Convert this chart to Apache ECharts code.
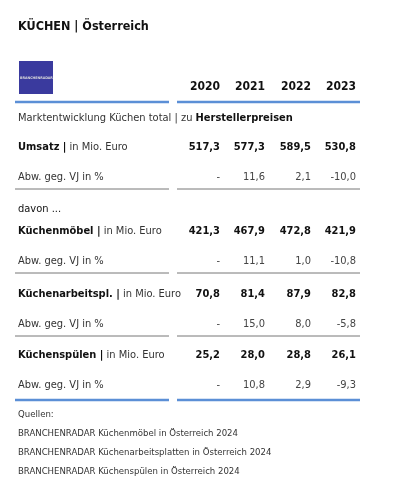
<!DOCTYPE html><html><head><meta charset="utf-8"><script src="https://cdn.jsdelivr.net/npm/echarts@6/dist/echarts.min.js"></script>
<style>html,body{margin:0;padding:0;background:#fff}#c{width:413px;height:500px}</style></head><body><div id="c"></div><script>
const years=['2020','2021','2022','2023'];
const umsatz=['517,3','577,3','589,5','530,8'];
const umsatzVJ=['-','11,6','2,1','-10,0'];
const moebel=['421,3','467,9','472,8','421,9'];
const moebelVJ=['-','11,1','1,0','-10,8'];
const arbeit=['70,8','81,4','87,9','82,8'];
const arbeitVJ=['-','15,0','8,0','-5,8'];
const spuelen=['25,2','28,0','28,8','26,1'];
const spuelenVJ=['-','10,8','2,9','-9,3'];
const sources=['BRANCHENRADAR Küchenmöbel in Österreich 2024','BRANCHENRADAR Küchenarbeitsplatten in Österreich 2024','BRANCHENRADAR Küchenspülen in Österreich 2024'];
const F='"DejaVu Sans Condensed","Liberation Sans Narrow",sans-serif';
const colX=[220,265,311,356];
const g=[];
function t(x,y,rich,text,align,extra){g.push({type:'text',x:x,y:y,style:Object.assign({text:text,font:'11px '+F,fill:'#222',textAlign:align||'left',textVerticalAlign:'middle',rich:rich},extra||{})});}
const rich={b:{fontWeight:'bold',fontSize:11,fontFamily:F,fill:'#111'},n:{fontSize:11,fontFamily:F,fill:'#333'}};
function line(y,color,w){g.push({type:'line',shape:{x1:15,y1:y,x2:169,y2:y},style:{stroke:color,lineWidth:w}});g.push({type:'line',shape:{x1:177,y1:y,x2:360,y2:y},style:{stroke:color,lineWidth:w}});}
function vals(arr,y,bold){arr.forEach((v,i)=>t(colX[i],y,null,v,'right',{font:(bold?'bold ':'')+'11px '+F,fill:bold?'#111':'#444'}));}
t(18,27,null,'KÜCHEN | Österreich','left',{font:'bold 12.5px '+F,fill:'#111'});
g.push({type:'rect',shape:{x:19,y:61,width:34,height:33},style:{fill:'#3a3a9e'}});
t(20,78,null,'BRANCHENRADAR','left',{font:'bold 3.6px '+F,fill:'#ddd'});
years.forEach((y,i)=>t(colX[i],87,null,y,'right',{font:'bold 12px '+F,fill:'#111'}));
line(102,'#5b8fd6',2.5);
t(18,118,rich,'{n|Marktentwicklung Küchen total | zu }{b|Herstellerpreisen}');
const rows=[['Umsatz',umsatz,umsatzVJ,147],['Küchenmöbel',moebel,moebelVJ,231],['Küchenarbeitspl.',arbeit,arbeitVJ,294],['Küchenspülen',spuelen,spuelenVJ,355]];
rows.forEach((r,k)=>{t(18,r[3],rich,'{b|'+r[0]+' |}{n| in Mio. Euro}');vals(r[1],r[3],true);t(18,r[3]+30,null,'Abw. geg. VJ in %','left',{fill:'#333'});vals(r[2],r[3]+30,false);if(k<3)line(r[3]+42,'#777',1);});
t(18,209,null,'davon ...','left',{fill:'#111'});
line(400,'#5b8fd6',2.5);
t(18,415,null,'Quellen:','left',{font:'9.5px '+F,fill:'#333'});
sources.forEach((s,i)=>t(18,434+i*19,null,s,'left',{font:'9.5px '+F,fill:'#333'}));
const ch=echarts.init(document.getElementById('c'));
ch.setOption({animation:false,graphic:g});
</script></body></html>
